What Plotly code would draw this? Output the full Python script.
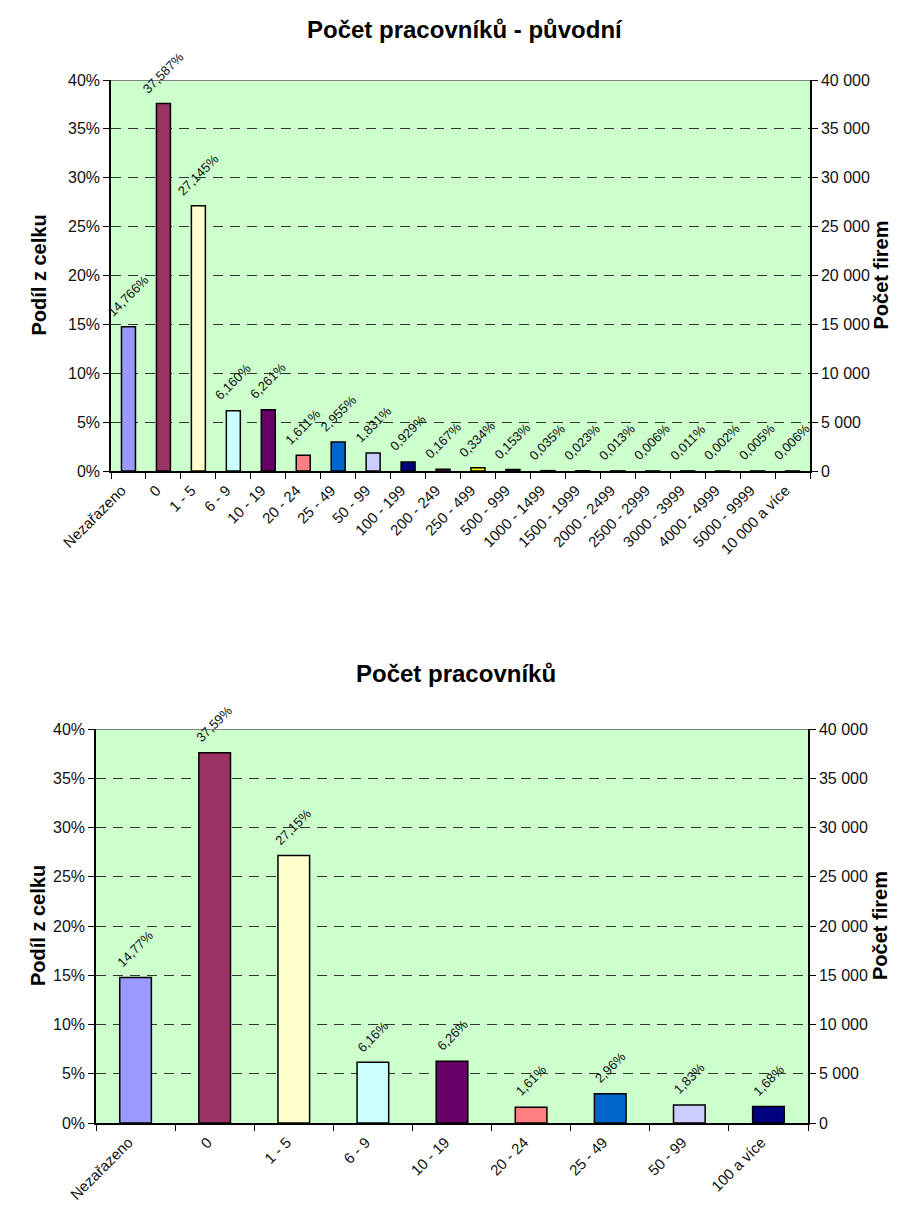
import plotly.graph_objects as go

# Employee-count bands, detailed breakdown
cats_full = ["Nezařazeno", "0", "1 - 5", "6 - 9", "10 - 19", "20 - 24", "25 - 49",
             "50 - 99", "100 - 199", "200 - 249", "250 - 499", "500 - 999",
             "1000 - 1499", "1500 - 1999", "2000 - 2499", "2500 - 2999",
             "3000 - 3999", "4000 - 4999", "5000 - 9999", "10 000 a více"]
share_full = [14.766, 37.587, 27.145, 6.160, 6.261, 1.611, 2.955, 1.831, 0.929,
              0.167, 0.334, 0.153, 0.035, 0.023, 0.013, 0.006, 0.011, 0.002,
              0.005, 0.006]

# Employee-count bands, merged breakdown
cats_short = ["Nezařazeno", "0", "1 - 5", "6 - 9", "10 - 19", "20 - 24", "25 - 49",
              "50 - 99", "100 a více"]
share_short = [14.77, 37.59, 27.15, 6.16, 6.26, 1.61, 2.96, 1.83, 1.68]

palette = ["#9999FF", "#993366", "#FFFFCC", "#CCFFFF", "#660066", "#FF8080",
           "#0066CC", "#CCCCFF", "#000080", "#FF00FF", "#FFFF00", "#00FFFF",
           "#800080", "#800000", "#008080", "#0000FF", "#00CCFF", "#CCFFFF",
           "#CCFFCC", "#FFFF99"]
palette_short = palette[:8] + ["#000080"]

W, H = 914, 1207
FONT = "Liberation Sans, Arial, sans-serif"


def fmt(v, dec):
    return f"{v:.{dec}f}".replace(".", ",") + "%"


fig = go.Figure()

fig.add_trace(go.Bar(
    x=cats_full, y=share_full, xaxis="x", yaxis="y",
    marker=dict(color=palette, line=dict(color="black", width=1.5)),
    width=0.4, showlegend=False, hoverinfo="skip"))
fig.add_trace(go.Scatter(x=[cats_full[0]], y=[None], xaxis="x", yaxis="y2",
                         showlegend=False, hoverinfo="skip"))

fig.add_trace(go.Bar(
    x=cats_short, y=share_short, xaxis="x2", yaxis="y3",
    marker=dict(color=palette_short, line=dict(color="black", width=1.5)),
    width=0.4, showlegend=False, hoverinfo="skip"))
fig.add_trace(go.Scatter(x=[cats_short[0]], y=[None], xaxis="x2", yaxis="y4",
                         showlegend=False, hoverinfo="skip"))

# value labels, slanted above each bar (x given as category index)
for cats, vals, xr, yr, dec in (
        (cats_full, share_full, "x", "y", 3),
        (cats_short, share_short, "x2", "y3", 2)):
    for i, v in enumerate(vals):
        fig.add_annotation(x=i, y=v, xref=xr, yref=yr, text=fmt(v, dec),
                           textangle=-45, showarrow=False, xanchor="center",
                           yanchor="bottom", yshift=5,
                           font=dict(family=FONT, size=13, color="#111"))

top_x = [111 / W, 810 / W]
top_y = [1 - 471 / H, 1 - 80 / H]
bot_x = [96 / W, 808 / W]
bot_y = [1 - 1123 / H, 1 - 729 / H]

tickfont = dict(family=FONT, size=16, color="#111")
xtickfont = dict(family=FONT, size=15, color="#111")
xcommon = dict(type="category", tickson="boundaries", ticks="outside", ticklen=6,
               tickcolor="black", showline=True, linecolor="black", linewidth=1.5,
               tickangle=-45, showgrid=False, fixedrange=True, automargin=False,
               tickfont=xtickfont, ticklabelshift=-7, ticklabelstandoff=3)
ypct = dict(range=[0, 40], dtick=5, ticksuffix="%", ticks="outside", ticklen=6,
            tickcolor="black", showline=True, linecolor="black", linewidth=1.5,
            showgrid=True, gridcolor="#333", griddash="10px,7px", gridwidth=1,
            zeroline=False, tickfont=tickfont, automargin=False)
ycnt = dict(range=[0, 40000], dtick=5000, tickformat=",d", side="right",
            ticks="outside", ticklen=6, tickcolor="black", showline=True,
            linecolor="black", linewidth=1.5, showgrid=False, zeroline=False,
            tickfont=tickfont, automargin=False)

fig.update_layout(
    width=W, height=H, margin=dict(l=0, r=0, t=0, b=0, autoexpand=False),
    paper_bgcolor="white", plot_bgcolor="#CCFFCC", separators=", ",
    font=dict(family=FONT, color="#111"),
    bargap=0.6,
    xaxis=dict(domain=top_x, anchor="y", range=[-0.5, len(cats_full) - 0.5], **xcommon),
    yaxis=dict(domain=top_y, anchor="x", **ypct),
    yaxis2=dict(overlaying="y", anchor="x", **ycnt),
    xaxis2=dict(domain=bot_x, anchor="y3", range=[-0.5, len(cats_short) - 0.5], **xcommon),
    yaxis3=dict(domain=bot_y, anchor="x2", **ypct),
    yaxis4=dict(overlaying="y3", anchor="x2", **ycnt),
)

# gray top border of each plot area
for xr, yr in (("x", "y"), ("x2", "y3")):
    fig.add_shape(type="line", xref=f"{xr} domain", yref=yr, x0=0, x1=1, y0=40, y1=40,
                  line=dict(color="#808080", width=2), layer="above")

titles = [
    ("Počet pracovníků - původní", 465, 30),
    ("Počet pracovníků", 456, 673),
]
for txt, px, py in titles:
    fig.add_annotation(text=f"<b>{txt}</b>", xref="paper", yref="paper",
                       x=px / W, y=1 - py / H, showarrow=False,
                       xanchor="center", yanchor="middle",
                       font=dict(family=FONT, size=24, color="black"))

for cy in ((80 + 471) / 2, (729 + 1123) / 2):
    fig.add_annotation(text="<b>Podíl z celku</b>", xref="paper", yref="paper",
                       x=38 / W, y=1 - cy / H, textangle=-90, showarrow=False,
                       xanchor="center", yanchor="middle",
                       font=dict(family=FONT, size=20, color="black"))
    fig.add_annotation(text="<b>Počet firem</b>", xref="paper", yref="paper",
                       x=880 / W, y=1 - cy / H, textangle=-90, showarrow=False,
                       xanchor="center", yanchor="middle",
                       font=dict(family=FONT, size=20, color="black"))

fig.write_html("out.html")
